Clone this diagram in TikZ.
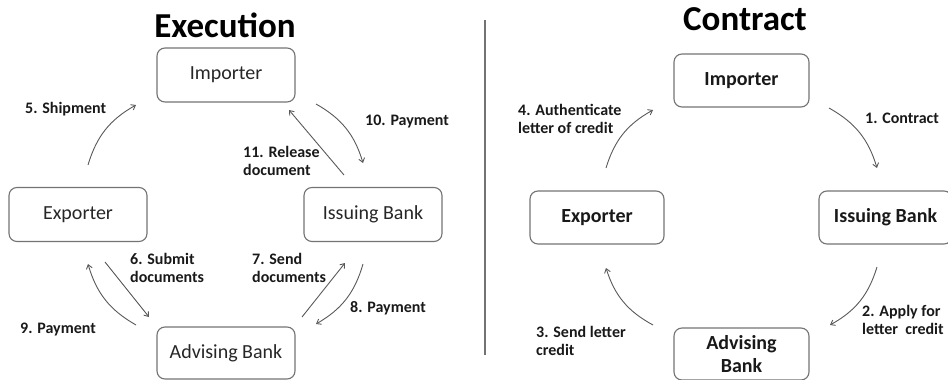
\documentclass[tikz,border=0pt]{standalone}
\usepackage{fontspec}
\setmainfont{Carlito}
\usetikzlibrary{arrows.meta}
\begin{document}
\begin{tikzpicture}[x=1pt,y=-1pt,
  party/.style={draw=black!55, line width=1.1pt, rounded corners=8pt,
    minimum width=138pt, minimum height=54pt, inner sep=2pt,
    text=black!85, font=\fontsize{20}{22}\selectfont, align=center},
  partyb/.style={party, font=\bfseries\fontsize{20}{23}\selectfont, text=black!90},
  flow/.style={draw=black!65, line width=0.9pt,
    -{Straight Barb[length=4pt,width=6pt]}},
  tag/.style={anchor=west, inner sep=0pt, align=left, text=black!90,
    font=\bfseries\fontsize{16}{18.5}\selectfont},
  heading/.style={anchor=base, inner sep=0pt, font=\bfseries\fontsize{35}{40}\selectfont}]
\useasboundingbox (0,0) rectangle (948,380);

% ---------- Execution ----------
\node[heading] (exec) at (225,37) {Execution};
\node[party] (imp) at (226,75) {Importer};
\node[party] (exp) at (78,214.5) {Exporter};
\node[party] (iss) at (373,214.5) {Issuing Bank};
\node[party, minimum height=52pt] (adv) at (226,353) {Advising Bank};

\coordinate (s5a) at (88,165);   \coordinate (s5b) at (136,105);
\coordinate (p10a) at (316,104); \coordinate (p10b) at (363,163);
\coordinate (r11a) at (344,175); \coordinate (r11b) at (289,110);
\coordinate (d6a) at (105,262);  \coordinate (d6b) at (149,317);
\coordinate (p9a) at (136,325);  \coordinate (p9b) at (88,264);
\coordinate (d7a) at (302,317);  \coordinate (d7b) at (345,263);
\coordinate (p8a) at (363,264);  \coordinate (p8b) at (316,324);

\draw[flow] (s5a) to[bend left=22] (s5b);
\draw[flow] (p10a) to[bend left=22] (p10b);
\draw[flow] (r11a) -- (r11b);
\draw[flow] (d6a) -- (d6b);
\draw[flow] (p9a) to[bend left=22] (p9b);
\draw[flow] (d7a) -- (d7b);
\draw[flow] (p8a) to[bend left=22] (p8b);

\node[tag] (t5) at (25,109) {5. Shipment};
\node[tag] (t10) at (365,122) {10. Payment};
\node[tag] (t11) at (243,161) {11. Release\\document};
\node[tag] (t6) at (130,268) {6. Submit\\documents};
\node[tag] (t7) at (252,268) {7. Send\\documents};
\node[tag] (t8) at (350,308) {8. Payment};
\node[tag] (t9) at (20,330) {9. Payment};

% ---------- divider ----------
\coordinate (divtop) at (485,20);
\coordinate (divbot) at (485,355);
\draw[black!55, line width=1.3pt] (divtop) -- (divbot);

% ---------- Contract ----------
\node[heading] (con) at (745,30) {Contract};
\node[partyb, minimum width=135pt, minimum height=53pt] (cimp) at (741.5,80.5) {Importer};
\node[partyb, minimum width=134pt, minimum height=53pt] (cexp) at (597,217.5) {Exporter};
\node[partyb, minimum width=133pt, minimum height=53pt] (ciss) at (885.5,217.5) {Issuing Bank};
\node[partyb, minimum width=135pt, minimum height=52pt, font=\bfseries\fontsize{20}{23}\selectfont] (cadv) at (741.5,354) {Advising\\Bank};

\coordinate (c1a) at (829,108); \coordinate (c1b) at (877,168);
\coordinate (c2a) at (877,267); \coordinate (c2b) at (830,325);
\coordinate (c3a) at (653,325); \coordinate (c3b) at (606,268);
\coordinate (c4a) at (606,168); \coordinate (c4b) at (653,110);

\draw[flow] (c1a) to[bend left=22] (c1b);
\draw[flow] (c2a) to[bend left=22] (c2b);
\draw[flow] (c3a) to[bend left=22] (c3b);
\draw[flow] (c4a) to[bend left=22] (c4b);

\node[tag] (u1) at (865,118) {1. Contract};
\node[tag] (u2) at (862,320) {2. Apply for\\letter\ \ credit};
\node[tag] (u3) at (536,341) {3. Send letter\\credit};
\node[tag] (u4) at (518,119) {4. Authenticate\\letter of credit};
\end{tikzpicture}
\end{document}
